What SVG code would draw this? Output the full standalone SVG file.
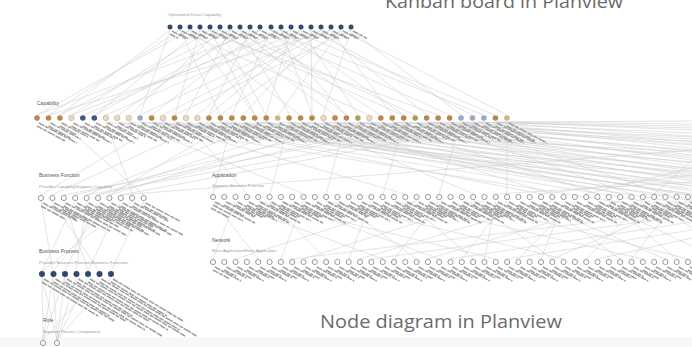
<svg xmlns="http://www.w3.org/2000/svg" width="692" height="347" viewBox="0 0 692 347">
<style>
.e{fill:none;stroke:#cdcdcd;stroke-width:.55}
.lb{fill:none;stroke:#9e9e9e;stroke-width:1.5;stroke-dasharray:6 1 4 1 8 1}
.nv{fill:#2f4a6c}
.br{fill:#b8874c}
.lt{fill:#e8d9c6;stroke:#c4a986;stroke-width:.6}
.tn{fill:#d2b48a}
.bl{fill:#3e5a80}
.bg{fill:#9aabc0}
.ol{fill:#a9a15a}
.ho{fill:#fff;stroke:#8f8f8f;stroke-width:.9}
.h{font-family:"Liberation Sans",Arial,sans-serif;font-size:5px;fill:#555}
.s{font-family:"Liberation Sans",Arial,sans-serif;font-size:4.2px;fill:#9a9a9a}
.big{font-family:"Open Sans","Liberation Sans",sans-serif;font-size:18px;fill:#6b6b6b}
</style>
<defs>
<path id="L1" d="M2,4l14,7.5M0,7l8,4.3"/>
<path id="C1" d="M2,5l30,16M0,8l22,12"/>
<path id="C2" d="M2,5l38,20M0,8l28,15"/>
<path id="C3" d="M2,5l26,14M0,8l16,8.6"/>
<path id="B1" d="M2,5l34,18M0,8l24,13"/>
<path id="B2" d="M2,5l60,32M0,8l46,25M-2,11l34,18"/>
<path id="A1" d="M2,5l28,15M0,8l20,11"/>
<path id="A2" d="M2,5l40,21M0,8l30,16M-2,11l18,9.7"/>
<path id="N1" d="M2,5l20,10.8M0,8l12,6.5"/>
<path id="N2" d="M2,5l26,14M0,8l16,8.6"/>
<path id="P1" d="M2,5l70,42M0,8l56,34"/>
<path id="P2" d="M2,5l95,57M0,8l80,48"/>
</defs>
<rect width="692" height="347" fill="#fff"/>
<rect y="337" width="692" height="10" fill="#f8f8f8"/>

<g id="edges">
<path class="e" d="M170,30L60,115M170,30L140,115M180,30L49,115M180,30L220,115M190,30L37,115M190,30L300,115M200,30L95,115M200,30L175,115M210,30L72,115M210,30L255,115M220,30L130,115M220,30L335,115M230,30L186,115M230,30L415,115M240,30L118,115M240,30L290,115M250,30L209,115M250,30L380,115M260,30L152,115M260,30L450,115M271,30L232,115M271,30L346,115M281,30L84,115M281,30L404,115M291,30L266,115M291,30L495,115M301,30L197,115M301,30L358,115M311,30L312,115M311,30L472,115M321,30L243,115M321,30L427,115M331,30L163,115M331,30L392,115M341,30L278,115M341,30L507,115M351,30L323,115M351,30L461,115M180,30L369,115M200,30L438,115M230,30L60,115M260,30L37,115M301,30L106,115M321,30L140,115M341,30L220,115M351,30L175,115M271,30L484,115M210,30L403,115M190,30L255,115M250,30L95,115M291,30L72,115M331,30L49,115M281,30L312,115M311,30L209,115M240,30L346,115M220,30L266,115"/>
<path class="e" d="M507,122L692,124M496,122L692,130M484,122L692,136M473,122L692,128M461,122L692,142M450,122L692,148M439,122L692,133M427,122L692,155M416,122L692,139M404,122L692,160M392,122L692,145M381,122L692,166M369,122L692,151M358,122L692,171M346,122L692,158M335,122L692,176M323,122L692,163M312,122L692,181M301,122L692,169M289,122L692,186M278,122L692,174M266,122L692,191M255,122L692,179M243,122L692,196M232,122L692,184M220,122L692,201M209,122L692,189M197,122L692,205M186,122L692,194M175,122L692,199M163,122L692,209M152,122L692,186M140,122L692,172M129,122L692,152M118,122L692,214M106,122L692,177M495,122L692,121M461,122L692,126M427,122L692,144M392,122L692,137M358,122L692,150M323,122L692,141M289,122L692,156M255,122L692,162M220,122L692,168"/>
<path class="e" d="M186,122L247,194M232,122L213,194M289,122L270,194M346,122L326,194M404,122L383,194M461,122L439,194M507,122L507,194M323,122L552,194M266,122L620,194M220,122L688,194M152,122L405,194M381,122L598,194M450,122L665,194M129,122L304,194M301,122L474,194M175,122L541,194M427,122L631,194M692,175L541,194M692,168L586,194M692,182L496,194M692,160L654,194"/>
<path class="e" d="M266,122L87,195M312,122L98,195M369,122L75,195M440,122L64,195M507,122L121,195M209,122L52,195M163,122L41,195M106,122L133,195M60,122L144,195M232,122L110,195M484,122L87,195M404,122L98,195M346,122L110,195M692,150L121,195"/>
<path class="e" d="M213,201L258,259M235.6,201L213,259M269.6,201L326,259M303.5,201L280.9,259M337.4,201L416.6,259M371.3,201L348.7,259M405.3,201L473.1,259M439.2,201L394,259M473.1,201L552.3,259M507.1,201L461.8,259M541,201L620.2,259M574.9,201L518.4,259M608.9,201L676.7,259M642.8,201L586.2,259M676.7,201L631.5,259M688,201L552.3,259M620.2,201L427.9,259M552.3,201L360,259M484.4,201L303.5,259M416.6,201L235.6,259M692,215L371.3,259M692,222L450.5,259M692,230L507.1,259M692,238L597.5,259M692,210L292.2,259M258.2,201L495.8,259M326.1,201L563.6,259M394,201L642.8,259M461.8,201L688,259M224.3,201L382.7,259M280.9,201L439.2,259M529.7,201L665.4,259M597.5,201L692,246M654.1,201L692,228M563.6,201L541,259M495.8,201L484.4,259"/>
<path class="e" d="M41,201L53,271M75,201L42,271M98,201L65,271M121,201L88,271M144,201L111,271M52,201L99,271M87,201L76,271M110,201L53,271M133,201L42,271M64,201L88,271"/>
<path class="e" d="M42,277L43,340M53,277L43,340M65,277L43,340M76,277L57,340M88,277L57,340M99,277L43,340M111,277L57,340M53,277L57,340M65,277L57,340M42,277L57,340"/>
</g>

<g id="kanban-caption"><text class="big" x="385" y="8" textLength="238" lengthAdjust="spacingAndGlyphs">Kanban board in Planview</text></g>
<g id="node-caption"><text class="big" x="320" y="328" textLength="242" lengthAdjust="spacingAndGlyphs">Node diagram in Planview</text></g>

<g id="titles">
<text class="s" x="168" y="16">Operational Direct Capability</text>
<text class="h" x="37" y="105">Capability</text>
<text class="h" x="39" y="177">Business Function</text>
<text class="s" x="39" y="188">Provides Capability/Supports Capability</text>
<text class="h" x="212" y="177">Application</text>
<text class="s" x="212" y="187">Supports Business Function</text>
<text class="h" x="212" y="242">Network</text>
<text class="s" x="212" y="252">Runs Application/Hosts Application</text>
<text class="h" x="39" y="253">Business Process</text>
<text class="s" x="39" y="264">Provides Business Function/Business Functions</text>
<text class="h" x="43" y="322">Role</text>
<text class="s" x="43" y="333">Supports Process Components</text>
</g>

<g id="top-row">
<g id="t1"><circle class="nv" cx="170" cy="27" r="2.5"/><use href="#L1" x="170" y="27" class="lb"/></g>
<g id="t2"><circle class="nv" cx="180" cy="27" r="2.5"/><use href="#L1" x="180" y="27" class="lb"/></g>
<g id="t3"><circle class="nv" cx="190" cy="27" r="2.5"/><use href="#L1" x="190" y="27" class="lb"/></g>
<g id="t4"><circle class="nv" cx="200" cy="27" r="2.5"/><use href="#L1" x="200" y="27" class="lb"/></g>
<g id="t5"><circle class="nv" cx="210" cy="27" r="2.5"/><use href="#L1" x="210" y="27" class="lb"/></g>
<g id="t6"><circle class="nv" cx="220" cy="27" r="2.5"/><use href="#L1" x="220" y="27" class="lb"/></g>
<g id="t7"><circle class="nv" cx="230" cy="27" r="2.5"/><use href="#L1" x="230" y="27" class="lb"/></g>
<g id="t8"><circle class="nv" cx="240" cy="27" r="2.5"/><use href="#L1" x="240" y="27" class="lb"/></g>
<g id="t9"><circle class="nv" cx="250" cy="27" r="2.5"/><use href="#L1" x="250" y="27" class="lb"/></g>
<g id="t10"><circle class="nv" cx="260" cy="27" r="2.5"/><use href="#L1" x="260" y="27" class="lb"/></g>
<g id="t11"><circle class="nv" cx="271" cy="27" r="2.5"/><use href="#L1" x="271" y="27" class="lb"/></g>
<g id="t12"><circle class="nv" cx="281" cy="27" r="2.5"/><use href="#L1" x="281" y="27" class="lb"/></g>
<g id="t13"><circle class="nv" cx="291" cy="27" r="2.5"/><use href="#L1" x="291" y="27" class="lb"/></g>
<g id="t14"><circle class="nv" cx="301" cy="27" r="2.5"/><use href="#L1" x="301" y="27" class="lb"/></g>
<g id="t15"><circle class="nv" cx="311" cy="27" r="2.5"/><use href="#L1" x="311" y="27" class="lb"/></g>
<g id="t16"><circle class="nv" cx="321" cy="27" r="2.5"/><use href="#L1" x="321" y="27" class="lb"/></g>
<g id="t17"><circle class="nv" cx="331" cy="27" r="2.5"/><use href="#L1" x="331" y="27" class="lb"/></g>
<g id="t18"><circle class="nv" cx="341" cy="27" r="2.5"/><use href="#L1" x="341" y="27" class="lb"/></g>
<g id="t19"><circle class="nv" cx="351" cy="27" r="2.5"/><use href="#L1" x="351" y="27" class="lb"/></g>
</g>

<g id="capability-row">
<g id="c1"><circle class="br" cx="37" cy="118" r="2.8"/><use href="#C2" x="37" y="118" class="lb"/></g>
<g id="c2"><circle class="br" cx="48.5" cy="118" r="2.8"/><use href="#C1" x="48.5" y="118" class="lb"/></g>
<g id="c3"><circle class="br" cx="59.9" cy="118" r="2.8"/><use href="#C3" x="59.9" y="118" class="lb"/></g>
<g id="c4"><circle class="lt" cx="71.4" cy="118" r="2.8"/><use href="#C2" x="71.4" y="118" class="lb"/></g>
<g id="c5"><circle class="bl" cx="82.8" cy="118" r="2.8"/><use href="#C1" x="82.8" y="118" class="lb"/></g>
<g id="c6"><circle class="bl" cx="94.3" cy="118" r="2.8"/><use href="#C2" x="94.3" y="118" class="lb"/></g>
<g id="c7"><circle class="lt" cx="105.8" cy="118" r="2.8"/><use href="#C1" x="105.8" y="118" class="lb"/></g>
<g id="c8"><circle class="lt" cx="117.2" cy="118" r="2.8"/><use href="#C3" x="117.2" y="118" class="lb"/></g>
<g id="c9"><circle class="lt" cx="128.7" cy="118" r="2.8"/><use href="#C2" x="128.7" y="118" class="lb"/></g>
<g id="c10"><circle class="bg" cx="140.1" cy="118" r="2.8"/><use href="#C1" x="140.1" y="118" class="lb"/></g>
<g id="c11"><circle class="br" cx="151.6" cy="118" r="2.8"/><use href="#C2" x="151.6" y="118" class="lb"/></g>
<g id="c12"><circle class="lt" cx="163.1" cy="118" r="2.8"/><use href="#C1" x="163.1" y="118" class="lb"/></g>
<g id="c13"><circle class="br" cx="174.5" cy="118" r="2.8"/><use href="#C2" x="174.5" y="118" class="lb"/></g>
<g id="c14"><circle class="lt" cx="186" cy="118" r="2.8"/><use href="#C3" x="186" y="118" class="lb"/></g>
<g id="c15"><circle class="lt" cx="197.4" cy="118" r="2.8"/><use href="#C2" x="197.4" y="118" class="lb"/></g>
<g id="c16"><circle class="br" cx="208.9" cy="118" r="2.8"/><use href="#C1" x="208.9" y="118" class="lb"/></g>
<g id="c17"><circle class="br" cx="220.4" cy="118" r="2.8"/><use href="#C2" x="220.4" y="118" class="lb"/></g>
<g id="c18"><circle class="br" cx="231.8" cy="118" r="2.8"/><use href="#C1" x="231.8" y="118" class="lb"/></g>
<g id="c19"><circle class="br" cx="243.3" cy="118" r="2.8"/><use href="#C2" x="243.3" y="118" class="lb"/></g>
<g id="c20"><circle class="br" cx="254.7" cy="118" r="2.8"/><use href="#C3" x="254.7" y="118" class="lb"/></g>
<g id="c21"><circle class="br" cx="266.2" cy="118" r="2.8"/><use href="#C2" x="266.2" y="118" class="lb"/></g>
<g id="c22"><circle class="tn" cx="277.7" cy="118" r="2.8"/><use href="#C1" x="277.7" y="118" class="lb"/></g>
<g id="c23"><circle class="br" cx="289.1" cy="118" r="2.8"/><use href="#C2" x="289.1" y="118" class="lb"/></g>
<g id="c24"><circle class="br" cx="300.6" cy="118" r="2.8"/><use href="#C1" x="300.6" y="118" class="lb"/></g>
<g id="c25"><circle class="br" cx="312" cy="118" r="2.8"/><use href="#C2" x="312" y="118" class="lb"/></g>
<g id="c26"><circle class="lt" cx="323.5" cy="118" r="2.8"/><use href="#C3" x="323.5" y="118" class="lb"/></g>
<g id="c27"><circle class="br" cx="335" cy="118" r="2.8"/><use href="#C2" x="335" y="118" class="lb"/></g>
<g id="c28"><circle class="br" cx="346.4" cy="118" r="2.8"/><use href="#C1" x="346.4" y="118" class="lb"/></g>
<g id="c29"><circle class="ol" cx="357.9" cy="118" r="2.8"/><use href="#C2" x="357.9" y="118" class="lb"/></g>
<g id="c30"><circle class="lt" cx="369.3" cy="118" r="2.8"/><use href="#C1" x="369.3" y="118" class="lb"/></g>
<g id="c31"><circle class="br" cx="380.8" cy="118" r="2.8"/><use href="#C2" x="380.8" y="118" class="lb"/></g>
<g id="c32"><circle class="br" cx="392.3" cy="118" r="2.8"/><use href="#C3" x="392.3" y="118" class="lb"/></g>
<g id="c33"><circle class="br" cx="403.7" cy="118" r="2.8"/><use href="#C2" x="403.7" y="118" class="lb"/></g>
<g id="c34"><circle class="ol" cx="415.2" cy="118" r="2.8"/><use href="#C1" x="415.2" y="118" class="lb"/></g>
<g id="c35"><circle class="br" cx="426.6" cy="118" r="2.8"/><use href="#C2" x="426.6" y="118" class="lb"/></g>
<g id="c36"><circle class="br" cx="438.1" cy="118" r="2.8"/><use href="#C1" x="438.1" y="118" class="lb"/></g>
<g id="c37"><circle class="br" cx="449.6" cy="118" r="2.8"/><use href="#C2" x="449.6" y="118" class="lb"/></g>
<g id="c38"><circle class="bg" cx="461" cy="118" r="2.8"/><use href="#C1" x="461" y="118" class="lb"/></g>
<g id="c39"><circle class="bg" cx="472.5" cy="118" r="2.8"/><use href="#C2" x="472.5" y="118" class="lb"/></g>
<g id="c40"><circle class="bg" cx="483.9" cy="118" r="2.8"/><use href="#C2" x="483.9" y="118" class="lb"/></g>
<g id="c41"><circle class="br" cx="495.4" cy="118" r="2.8"/><use href="#C2" x="495.4" y="118" class="lb"/></g>
<g id="c42"><circle class="tn" cx="506.9" cy="118" r="2.8"/><use href="#C2" x="506.9" y="118" class="lb"/></g>
</g>

<g id="business-function-row">
<g id="f1"><circle class="ho" cx="41" cy="198" r="2.6"/><use href="#B1" x="41" y="198" class="lb"/></g>
<g id="f2"><circle class="ho" cx="52.4" cy="198" r="2.6"/><use href="#B1" x="52.4" y="198" class="lb"/></g>
<g id="f3"><circle class="ho" cx="63.8" cy="198" r="2.6"/><use href="#B2" x="63.8" y="198" class="lb"/></g>
<g id="f4"><circle class="ho" cx="75.2" cy="198" r="2.6"/><use href="#B1" x="75.2" y="198" class="lb"/></g>
<g id="f5"><circle class="ho" cx="86.6" cy="198" r="2.6"/><use href="#B2" x="86.6" y="198" class="lb"/></g>
<g id="f6"><circle class="ho" cx="98" cy="198" r="2.6"/><use href="#B2" x="98" y="198" class="lb"/></g>
<g id="f7"><circle class="ho" cx="109.4" cy="198" r="2.6"/><use href="#B2" x="109.4" y="198" class="lb"/></g>
<g id="f8"><circle class="ho" cx="120.8" cy="198" r="2.6"/><use href="#B2" x="120.8" y="198" class="lb"/></g>
<g id="f9"><circle class="ho" cx="132.2" cy="198" r="2.6"/><use href="#B1" x="132.2" y="198" class="lb"/></g>
<g id="f10"><circle class="ho" cx="143.6" cy="198" r="2.6"/><use href="#B1" x="143.6" y="198" class="lb"/></g>
</g>

<g id="application-row">
<g id="a1"><circle class="ho" cx="213" cy="197" r="2.6"/><use href="#A2" x="213" y="197" class="lb"/></g>
<g id="a2"><circle class="ho" cx="224.3" cy="197" r="2.6"/><use href="#A1" x="224.3" y="197" class="lb"/></g>
<g id="a3"><circle class="ho" cx="235.6" cy="197" r="2.6"/><use href="#A1" x="235.6" y="197" class="lb"/></g>
<g id="a4"><circle class="ho" cx="246.9" cy="197" r="2.6"/><use href="#A2" x="246.9" y="197" class="lb"/></g>
<g id="a5"><circle class="ho" cx="258.2" cy="197" r="2.6"/><use href="#A2" x="258.2" y="197" class="lb"/></g>
<g id="a6"><circle class="ho" cx="269.6" cy="197" r="2.6"/><use href="#A1" x="269.6" y="197" class="lb"/></g>
<g id="a7"><circle class="ho" cx="280.9" cy="197" r="2.6"/><use href="#A2" x="280.9" y="197" class="lb"/></g>
<g id="a8"><circle class="ho" cx="292.2" cy="197" r="2.6"/><use href="#A1" x="292.2" y="197" class="lb"/></g>
<g id="a9"><circle class="ho" cx="303.5" cy="197" r="2.6"/><use href="#A2" x="303.5" y="197" class="lb"/></g>
<g id="a10"><circle class="ho" cx="314.8" cy="197" r="2.6"/><use href="#A1" x="314.8" y="197" class="lb"/></g>
<g id="a11"><circle class="ho" cx="326.1" cy="197" r="2.6"/><use href="#A2" x="326.1" y="197" class="lb"/></g>
<g id="a12"><circle class="ho" cx="337.4" cy="197" r="2.6"/><use href="#A1" x="337.4" y="197" class="lb"/></g>
<g id="a13"><circle class="ho" cx="348.7" cy="197" r="2.6"/><use href="#A1" x="348.7" y="197" class="lb"/></g>
<g id="a14"><circle class="ho" cx="360" cy="197" r="2.6"/><use href="#A2" x="360" y="197" class="lb"/></g>
<g id="a15"><circle class="ho" cx="371.3" cy="197" r="2.6"/><use href="#A1" x="371.3" y="197" class="lb"/></g>
<g id="a16"><circle class="ho" cx="382.7" cy="197" r="2.6"/><use href="#A2" x="382.7" y="197" class="lb"/></g>
<g id="a17"><circle class="ho" cx="394" cy="197" r="2.6"/><use href="#A1" x="394" y="197" class="lb"/></g>
<g id="a18"><circle class="ho" cx="405.3" cy="197" r="2.6"/><use href="#A2" x="405.3" y="197" class="lb"/></g>
<g id="a19"><circle class="ho" cx="416.6" cy="197" r="2.6"/><use href="#A1" x="416.6" y="197" class="lb"/></g>
<g id="a20"><circle class="ho" cx="427.9" cy="197" r="2.6"/><use href="#A2" x="427.9" y="197" class="lb"/></g>
<g id="a21"><circle class="ho" cx="439.2" cy="197" r="2.6"/><use href="#A2" x="439.2" y="197" class="lb"/></g>
<g id="a22"><circle class="ho" cx="450.5" cy="197" r="2.6"/><use href="#A1" x="450.5" y="197" class="lb"/></g>
<g id="a23"><circle class="ho" cx="461.8" cy="197" r="2.6"/><use href="#A2" x="461.8" y="197" class="lb"/></g>
<g id="a24"><circle class="ho" cx="473.1" cy="197" r="2.6"/><use href="#A1" x="473.1" y="197" class="lb"/></g>
<g id="a25"><circle class="ho" cx="484.4" cy="197" r="2.6"/><use href="#A2" x="484.4" y="197" class="lb"/></g>
<g id="a26"><circle class="ho" cx="495.8" cy="197" r="2.6"/><use href="#A2" x="495.8" y="197" class="lb"/></g>
<g id="a27"><circle class="ho" cx="507.1" cy="197" r="2.6"/><use href="#A1" x="507.1" y="197" class="lb"/></g>
<g id="a28"><circle class="ho" cx="518.4" cy="197" r="2.6"/><use href="#A2" x="518.4" y="197" class="lb"/></g>
<g id="a29"><circle class="ho" cx="529.7" cy="197" r="2.6"/><use href="#A1" x="529.7" y="197" class="lb"/></g>
<g id="a30"><circle class="ho" cx="541" cy="197" r="2.6"/><use href="#A2" x="541" y="197" class="lb"/></g>
<g id="a31"><circle class="ho" cx="552.3" cy="197" r="2.6"/><use href="#A2" x="552.3" y="197" class="lb"/></g>
<g id="a32"><circle class="ho" cx="563.6" cy="197" r="2.6"/><use href="#A1" x="563.6" y="197" class="lb"/></g>
<g id="a33"><circle class="ho" cx="574.9" cy="197" r="2.6"/><use href="#A2" x="574.9" y="197" class="lb"/></g>
<g id="a34"><circle class="ho" cx="586.2" cy="197" r="2.6"/><use href="#A1" x="586.2" y="197" class="lb"/></g>
<g id="a35"><circle class="ho" cx="597.5" cy="197" r="2.6"/><use href="#A2" x="597.5" y="197" class="lb"/></g>
<g id="a36"><circle class="ho" cx="608.9" cy="197" r="2.6"/><use href="#A1" x="608.9" y="197" class="lb"/></g>
<g id="a37"><circle class="ho" cx="620.2" cy="197" r="2.6"/><use href="#A2" x="620.2" y="197" class="lb"/></g>
<g id="a38"><circle class="ho" cx="631.5" cy="197" r="2.6"/><use href="#A2" x="631.5" y="197" class="lb"/></g>
<g id="a39"><circle class="ho" cx="642.8" cy="197" r="2.6"/><use href="#A1" x="642.8" y="197" class="lb"/></g>
<g id="a40"><circle class="ho" cx="654.1" cy="197" r="2.6"/><use href="#A2" x="654.1" y="197" class="lb"/></g>
<g id="a41"><circle class="ho" cx="665.4" cy="197" r="2.6"/><use href="#A1" x="665.4" y="197" class="lb"/></g>
<g id="a42"><circle class="ho" cx="676.7" cy="197" r="2.6"/><use href="#A2" x="676.7" y="197" class="lb"/></g>
<g id="a43"><circle class="ho" cx="688" cy="197" r="2.6"/><use href="#A1" x="688" y="197" class="lb"/></g>
</g>

<g id="network-row">
<g id="n1"><circle class="ho" cx="213" cy="262" r="2.6"/><use href="#N2" x="213" y="262" class="lb"/></g>
<g id="n2"><circle class="ho" cx="224.3" cy="262" r="2.6"/><use href="#N1" x="224.3" y="262" class="lb"/></g>
<g id="n3"><circle class="ho" cx="235.6" cy="262" r="2.6"/><use href="#N2" x="235.6" y="262" class="lb"/></g>
<g id="n4"><circle class="ho" cx="246.9" cy="262" r="2.6"/><use href="#N1" x="246.9" y="262" class="lb"/></g>
<g id="n5"><circle class="ho" cx="258.2" cy="262" r="2.6"/><use href="#N2" x="258.2" y="262" class="lb"/></g>
<g id="n6"><circle class="ho" cx="269.6" cy="262" r="2.6"/><use href="#N1" x="269.6" y="262" class="lb"/></g>
<g id="n7"><circle class="ho" cx="280.9" cy="262" r="2.6"/><use href="#N2" x="280.9" y="262" class="lb"/></g>
<g id="n8"><circle class="ho" cx="292.2" cy="262" r="2.6"/><use href="#N1" x="292.2" y="262" class="lb"/></g>
<g id="n9"><circle class="ho" cx="303.5" cy="262" r="2.6"/><use href="#N2" x="303.5" y="262" class="lb"/></g>
<g id="n10"><circle class="ho" cx="314.8" cy="262" r="2.6"/><use href="#N1" x="314.8" y="262" class="lb"/></g>
<g id="n11"><circle class="ho" cx="326.1" cy="262" r="2.6"/><use href="#N2" x="326.1" y="262" class="lb"/></g>
<g id="n12"><circle class="ho" cx="337.4" cy="262" r="2.6"/><use href="#N1" x="337.4" y="262" class="lb"/></g>
<g id="n13"><circle class="ho" cx="348.7" cy="262" r="2.6"/><use href="#N2" x="348.7" y="262" class="lb"/></g>
<g id="n14"><circle class="ho" cx="360" cy="262" r="2.6"/><use href="#N1" x="360" y="262" class="lb"/></g>
<g id="n15"><circle class="ho" cx="371.3" cy="262" r="2.6"/><use href="#N2" x="371.3" y="262" class="lb"/></g>
<g id="n16"><circle class="ho" cx="382.7" cy="262" r="2.6"/><use href="#N1" x="382.7" y="262" class="lb"/></g>
<g id="n17"><circle class="ho" cx="394" cy="262" r="2.6"/><use href="#N2" x="394" y="262" class="lb"/></g>
<g id="n18"><circle class="ho" cx="405.3" cy="262" r="2.6"/><use href="#N1" x="405.3" y="262" class="lb"/></g>
<g id="n19"><circle class="ho" cx="416.6" cy="262" r="2.6"/><use href="#N2" x="416.6" y="262" class="lb"/></g>
<g id="n20"><circle class="ho" cx="427.9" cy="262" r="2.6"/><use href="#N1" x="427.9" y="262" class="lb"/></g>
<g id="n21"><circle class="ho" cx="439.2" cy="262" r="2.6"/><use href="#N2" x="439.2" y="262" class="lb"/></g>
<g id="n22"><circle class="ho" cx="450.5" cy="262" r="2.6"/><use href="#N1" x="450.5" y="262" class="lb"/></g>
<g id="n23"><circle class="ho" cx="461.8" cy="262" r="2.6"/><use href="#N2" x="461.8" y="262" class="lb"/></g>
<g id="n24"><circle class="ho" cx="473.1" cy="262" r="2.6"/><use href="#N1" x="473.1" y="262" class="lb"/></g>
<g id="n25"><circle class="ho" cx="484.4" cy="262" r="2.6"/><use href="#N2" x="484.4" y="262" class="lb"/></g>
<g id="n26"><circle class="ho" cx="495.8" cy="262" r="2.6"/><use href="#N1" x="495.8" y="262" class="lb"/></g>
<g id="n27"><circle class="ho" cx="507.1" cy="262" r="2.6"/><use href="#N2" x="507.1" y="262" class="lb"/></g>
<g id="n28"><circle class="ho" cx="518.4" cy="262" r="2.6"/><use href="#N1" x="518.4" y="262" class="lb"/></g>
<g id="n29"><circle class="ho" cx="529.7" cy="262" r="2.6"/><use href="#N2" x="529.7" y="262" class="lb"/></g>
<g id="n30"><circle class="ho" cx="541" cy="262" r="2.6"/><use href="#N1" x="541" y="262" class="lb"/></g>
<g id="n31"><circle class="ho" cx="552.3" cy="262" r="2.6"/><use href="#N2" x="552.3" y="262" class="lb"/></g>
<g id="n32"><circle class="ho" cx="563.6" cy="262" r="2.6"/><use href="#N1" x="563.6" y="262" class="lb"/></g>
<g id="n33"><circle class="ho" cx="574.9" cy="262" r="2.6"/><use href="#N2" x="574.9" y="262" class="lb"/></g>
<g id="n34"><circle class="ho" cx="586.2" cy="262" r="2.6"/><use href="#N1" x="586.2" y="262" class="lb"/></g>
<g id="n35"><circle class="ho" cx="597.5" cy="262" r="2.6"/><use href="#N2" x="597.5" y="262" class="lb"/></g>
<g id="n36"><circle class="ho" cx="608.9" cy="262" r="2.6"/><use href="#N1" x="608.9" y="262" class="lb"/></g>
<g id="n37"><circle class="ho" cx="620.2" cy="262" r="2.6"/><use href="#N2" x="620.2" y="262" class="lb"/></g>
<g id="n38"><circle class="ho" cx="631.5" cy="262" r="2.6"/><use href="#N1" x="631.5" y="262" class="lb"/></g>
<g id="n39"><circle class="ho" cx="642.8" cy="262" r="2.6"/><use href="#N2" x="642.8" y="262" class="lb"/></g>
<g id="n40"><circle class="ho" cx="654.1" cy="262" r="2.6"/><use href="#N1" x="654.1" y="262" class="lb"/></g>
<g id="n41"><circle class="ho" cx="665.4" cy="262" r="2.6"/><use href="#N2" x="665.4" y="262" class="lb"/></g>
<g id="n42"><circle class="ho" cx="676.7" cy="262" r="2.6"/><use href="#N1" x="676.7" y="262" class="lb"/></g>
<g id="n43"><circle class="ho" cx="688" cy="262" r="2.6"/><use href="#N2" x="688" y="262" class="lb"/></g>
</g>

<g id="business-process-row">
<g id="p1"><circle class="nv" cx="42" cy="274" r="3"/><use href="#P1" x="42" y="274" class="lb"/></g>
<g id="p2"><circle class="nv" cx="53.5" cy="274" r="3"/><use href="#P1" x="53.5" y="274" class="lb"/></g>
<g id="p3"><circle class="nv" cx="65" cy="274" r="3"/><use href="#P2" x="65" y="274" class="lb"/></g>
<g id="p4"><circle class="nv" cx="76.5" cy="274" r="3"/><use href="#P1" x="76.5" y="274" class="lb"/></g>
<g id="p5"><circle class="nv" cx="88" cy="274" r="3"/><use href="#P2" x="88" y="274" class="lb"/></g>
<g id="p6"><circle class="nv" cx="99.5" cy="274" r="3"/><use href="#P2" x="99.5" y="274" class="lb"/></g>
<g id="p7"><circle class="nv" cx="111" cy="274" r="3"/><use href="#P1" x="111" y="274" class="lb"/></g>
</g>

<g id="role-row">
<g id="r1"><circle class="ho" cx="43" cy="343" r="2.6"/></g>
<g id="r2"><circle class="ho" cx="57" cy="343" r="2.6"/></g>
</g>
</svg>
